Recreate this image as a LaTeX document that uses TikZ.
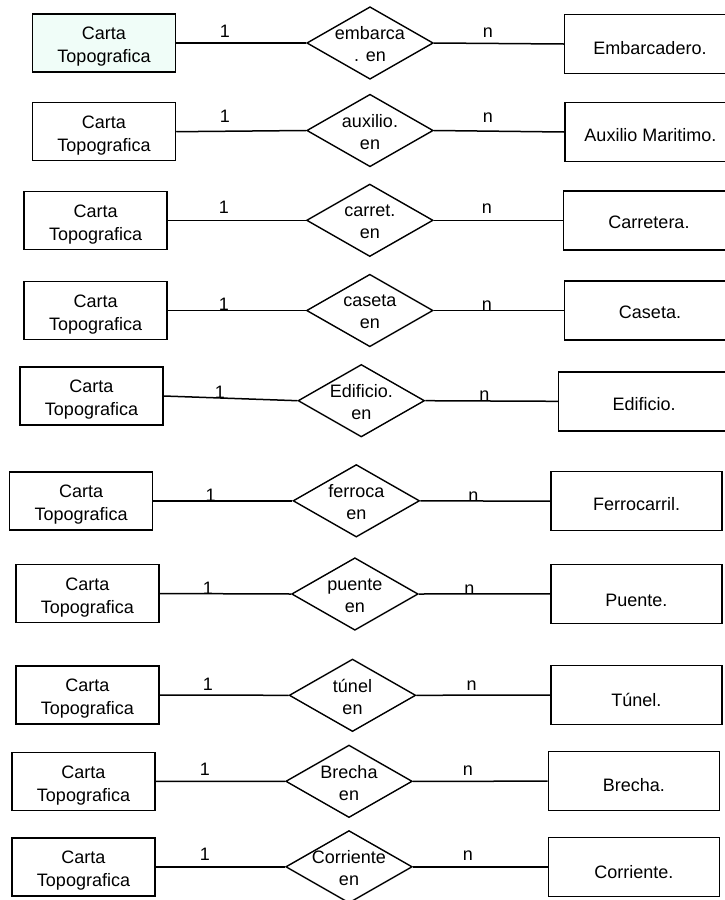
\documentclass[tikz,border=0pt]{standalone}
\usepackage{fontspec}
\setmainfont{Liberation Sans}
\usetikzlibrary{shapes.geometric}
\definecolor{mint}{RGB}{240,253,248}
\begin{document}
\begin{tikzpicture}[x=1pt,y=-1pt,
  every node/.style={font=\fontsize{18}{22}\selectfont, inner sep=0pt},
  carta/.style={draw, line width=1.5pt, minimum width=143pt, minimum height=58pt},
  entidad/.style={draw, line width=1.5pt, minimum width=171pt, minimum height=59pt},
  relacion/.style={draw, diamond, line width=1.4pt, minimum width=126.5pt, minimum height=72.5pt},
  cartatxt/.style={align=center, font=\fontsize{18}{23}\selectfont},
  reltxt/.style={align=center},
  enttxt/.style={anchor=base},
  card/.style={anchor=base},
  enlace/.style={line width=1.5pt}]
\useasboundingbox (0,0) rectangle (725,900);

% ---- entity boxes on the left
\node[carta, fill=mint] (a1) at (104,43) {};
\node[carta] (a2) at (104,131.7) {};
\node[carta] (a3) at (95.7,220.3) {};
\node[carta] (a4) at (95.7,310.5) {};
\node[carta] (a5) at (91.5,396) {};
\node[carta] (a6) at (81.2,500.8) {};
\node[carta] (a7) at (87.4,593.5) {};
\node[carta] (a8) at (87.4,695) {};
\node[carta] (a9) at (83.5,781.4) {};
\node[carta] (a10) at (83.5,866.8) {};

\foreach \i in {1,...,10}
  \node[cartatxt] (a\i t) at ([yshift=-4pt]a\i.center) {Carta\\Topografica};

% ---- relationships
\node[relacion] (r1) at (370,43) {};
\node[relacion] (r2) at (370,130.5) {};
\node[relacion] (r3) at (369.8,220.3) {};
\node[relacion] (r4) at (369.8,310.5) {};
\node[relacion] (r5) at (361.3,400.7) {};
\node[relacion] (r6) at (356.3,500.8) {};
\node[relacion] (r7) at (354.9,594) {};
\node[relacion] (r8) at (352.5,695.3) {};
\node[relacion] (r9) at (349,781.3) {};
\node[relacion] (r10) at (349,866.8) {};

\node[reltxt] (r1t) at ([yshift=-1.5pt]r1.center) {embarca\\. en};
\node[reltxt] (r2t) at ([yshift=-1.5pt]r2.center) {auxilio.\\en};
\node[reltxt] (r3t) at ([yshift=-1.5pt]r3.center) {carret.\\en};
\node[reltxt] (r4t) at ([yshift=-1.5pt]r4.center) {caseta\\en};
\node[reltxt] (r5t) at ([yshift=-1.5pt]r5.center) {Edificio.\\en};
\node[reltxt] (r6t) at ([yshift=-1.5pt]r6.center) {ferroca\\en};
\node[reltxt] (r7t) at ([yshift=-1.5pt]r7.center) {puente\\en};
\node[reltxt] (r8t) at ([yshift=-1.5pt]r8.center) {túnel\\en};
\node[reltxt] (r9t) at ([yshift=-1.5pt]r9.center) {Brecha\\en};
\node[reltxt] (r10t) at ([yshift=-1.5pt]r10.center) {Corriente\\en};

% ---- entity boxes on the right (the upper ones run past the right edge)
\node[entidad] (b1) at (650,44) {};
\node[entidad] (b2) at (650.5,132) {};
\node[entidad] (b3) at (649,220.3) {};
\node[entidad] (b4) at (650,310.5) {};
\node[entidad] (b5) at (644.2,401.3) {};
\node[entidad] (b6) at (636.7,501.2) {};
\node[entidad] (b7) at (636.4,593.8) {};
\node[entidad] (b8) at (636.4,695) {};
\node[entidad] (b9) at (633.9,781.2) {};
\node[entidad] (b10) at (633.9,866.8) {};

\node[enttxt] (b1t) at (b1.center |- 0,54.5) {Embarcadero.};
\node[enttxt] (b2t) at (b2.center |- 0,141.7) {Auxilio Maritimo.};
\node[enttxt] (b3t) at (b3.center |- 0,228) {Carretera.};
\node[enttxt] (b4t) at (b4.center |- 0,318.3) {Caseta.};
\node[enttxt] (b5t) at (b5.center |- 0,410.7) {Edificio.};
\node[enttxt] (b6t) at (b6.center |- 0,510) {Ferrocarril.};
\node[enttxt] (b7t) at (b7.center |- 0,606) {Puente.};
\node[enttxt] (b8t) at (b8.center |- 0,706) {Túnel.};
\node[enttxt] (b9t) at (b9.center |- 0,791.5) {Brecha.};
\node[enttxt] (b10t) at (b10.center |- 0,878) {Corriente.};

% ---- connectors
\foreach \i in {1,...,10} {
  \draw[enlace] (a\i.east) -- (r\i.west);
  \draw[enlace] (r\i.east) -- (b\i.west);
}

% ---- cardinalities
\node[card] (u1) at (225,37.3) {1};     \node[card] (m1) at (488,37.3) {n};
\node[card] (u2) at (225,122.7) {1};    \node[card] (m2) at (488,122.7) {n};
\node[card] (u3) at (224,213.3) {1};    \node[card] (m3) at (486.8,213.3) {n};
\node[card] (u4) at (224,310) {1};      \node[card] (m4) at (486.8,310) {n};
\node[card] (u5) at (220,398.3) {1};    \node[card] (m5) at (484.3,400) {n};
\node[card] (u6) at (210.7,501.5) {1};  \node[card] (m6) at (473.3,501) {n};
\node[card] (u7) at (208,594) {1};      \node[card] (m7) at (469.3,594) {n};
\node[card] (u8) at (208,690) {1};      \node[card] (m8) at (471.6,690) {n};
\node[card] (u9) at (205,775) {1};      \node[card] (m9) at (467.9,775) {n};
\node[card] (u10) at (205,860.7) {1};   \node[card] (m10) at (467.9,860.7) {n};
\end{tikzpicture}
\end{document}
